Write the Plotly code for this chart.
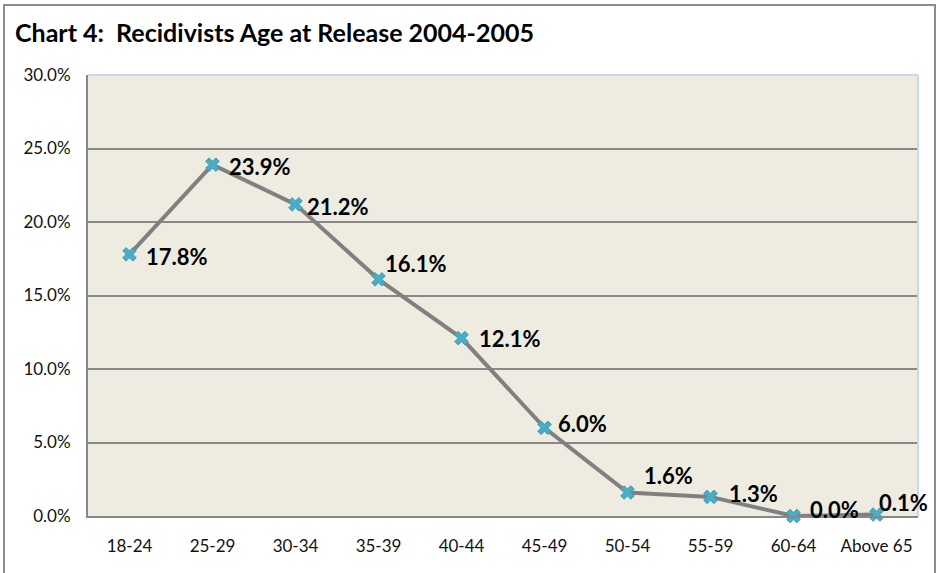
import plotly.graph_objects as go

categories = ["18-24", "25-29", "30-34", "35-39", "40-44", "45-49", "50-54", "55-59", "60-64", "Above 65"]
values = [0.178, 0.239, 0.212, 0.161, 0.121, 0.060, 0.016, 0.013, 0.000, 0.001]
labels = ["17.8%", "23.9%", "21.2%", "16.1%", "12.1%", "6.0%", "1.6%", "1.3%", "0.0%", "0.1%"]
y_ticks = [0, 0.05, 0.10, 0.15, 0.20, 0.25, 0.30]

# label offsets in pixels (style only)
label_dx = [14, 14, 9, 4, 15, 11, 14, 16, 14, 0]
label_dy = [-2, -2, -2, 16, 0, 4, 17, 3, 7, 12]

FONT = "Lato, 'Open Sans', sans-serif"

fig = go.Figure()
fig.add_trace(go.Scatter(
    x=categories, y=values, mode="lines+markers",
    line=dict(color="#808080", width=4),
    marker=dict(symbol="x", size=12, color="#4BACC6", line=dict(color="#3A9BB5", width=1)),
    cliponaxis=False, showlegend=False,
))

annotations = []
for c, v, t, dx, dy in zip(categories, values, labels, label_dx, label_dy):
    annotations.append(dict(x=c, y=v, xref="x", yref="y", text=f"<b>{t}</b>", showarrow=False,
                            xanchor="left", yanchor="middle", xshift=dx, yshift=dy,
                            font=dict(family=FONT, size=22, color="black")))

fig.update_layout(
    width=940, height=573,
    margin=dict(l=88, r=22, t=75, b=57),
    paper_bgcolor="white",
    plot_bgcolor="#EEECE1",
    title=dict(text="<b>Chart 4:  Recidivists Age at Release 2004-2005</b>",
               x=15/940, xref="container", xanchor="left",
               y=1-33/573, yref="container", yanchor="middle",
               font=dict(family=FONT, size=25, color="black")),
    xaxis=dict(range=[-0.5, 9.5], showgrid=False, showline=True, linecolor="#888888", linewidth=2,
               ticks="", tickfont=dict(family=FONT, size=17, color="#111111"), ticklabelstandoff=14,
               automargin=False),
    yaxis=dict(range=[0, 0.30], tickvals=y_ticks, tickformat=".1%", showgrid=True,
               gridcolor="#888888", gridwidth=2, showline=True, linecolor="#888888", linewidth=2,
               zeroline=False, ticks="", tickfont=dict(family=FONT, size=17, color="#111111"),
               ticklabelstandoff=12, automargin=False),
    annotations=annotations,
    shapes=[
        dict(type="line", xref="paper", yref="paper", x0=0, x1=1, y0=1, y1=1,
             line=dict(color="#C6D9F1", width=2)),
        dict(type="line", xref="paper", yref="paper", x0=1, x1=1, y0=0, y1=1,
             line=dict(color="#C6D9F1", width=2)),
        dict(type="rect", xref="paper", yref="paper", x0=(4-88)/830, x1=(935-88)/830,
             y0=-0.3, y1=(516-5)/441, line=dict(color="#8C8C8C", width=2), layer="below"),
    ],
)

fig.write_html("out.html", config={"displayModeBar": False},
               post_script="document.body.style.margin='0';")
